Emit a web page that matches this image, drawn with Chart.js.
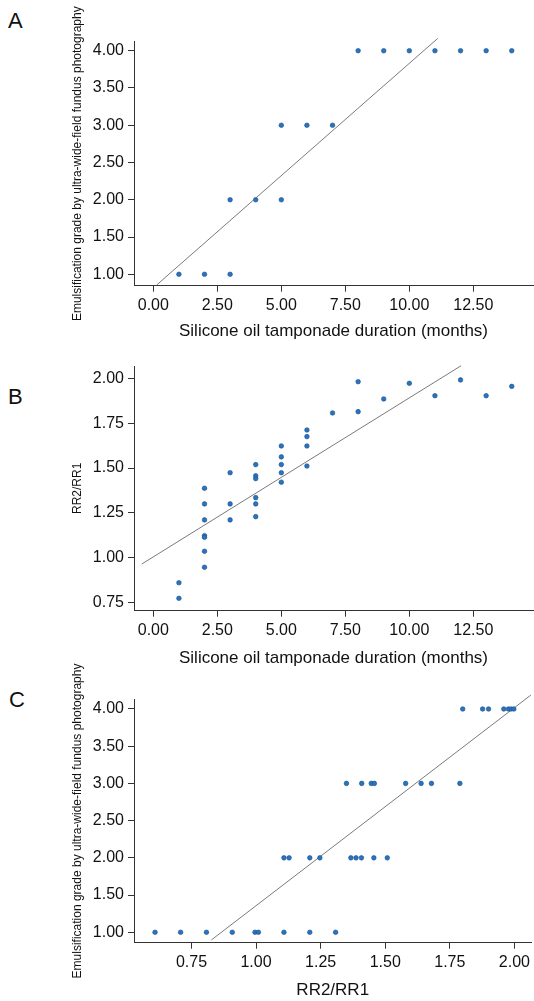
<!DOCTYPE html>
<html>
<head>
<meta charset="utf-8">
<script src="https://cdn.jsdelivr.net/npm/chart.js@4.4.1/dist/chart.umd.min.js"></script>
<style>
  html, body { margin: 0; padding: 0; background: #fff; }
  body { width: 534px; height: 1001px; position: relative; overflow: hidden; font-family: "Liberation Sans", Arial, sans-serif; }
  canvas { position: absolute; left: 0; }
  .tag { position: absolute; font-size: 22px; line-height: 22px; color: #111; }
</style>
</head>
<body>
<div class="tag" style="left:8px;top:10px">A</div>
<div class="tag" style="left:8px;top:386px">B</div>
<div class="tag" style="left:9px;top:689px">C</div>
<canvas id="chartA" style="top:0px" width="534" height="345"></canvas>
<canvas id="chartB" style="top:345px" width="534" height="330"></canvas>
<canvas id="chartC" style="top:655px" width="534" height="346"></canvas>
<script>
// panel A: grade vs duration
const durationA = [1, 2, 3, 3, 4, 5, 5, 6, 7, 8, 9, 10, 11, 12, 13, 14];
const gradeA    = [1, 1, 1, 2, 2, 2, 3, 3, 3, 4, 4, 4, 4, 4, 4, 4];
const fitA = [0.3014, 0.817];        // slope, intercept
const fitRangeA = [0.133, 11.11];

// panel B: RR2/RR1 vs duration
const durationB = [1, 1,
  2, 2, 2, 2, 2, 2, 2,
  3, 3, 3,
  4, 4, 4, 4, 4, 4,
  5, 5, 5, 5, 5,
  6, 6, 6, 6,
  7, 8, 8, 9, 10, 11, 12, 13, 14];
const ratioB = [0.861, 0.774,
  1.387, 1.300, 1.211, 1.123, 1.114, 1.036, 0.947,
  1.474, 1.300, 1.211,
  1.519, 1.457, 1.441, 1.335, 1.300, 1.229,
  1.623, 1.562, 1.519, 1.474, 1.421,
  1.712, 1.675, 1.623, 1.511,
  1.807, 1.981, 1.814, 1.885, 1.972, 1.903, 1.991, 1.903, 1.955];
const fitB = [0.0886, 1.005];
const fitRangeB = [-0.45, 12.02];

// panel C: grade vs RR2/RR1
const ratioC = [0.609, 0.708, 0.808, 0.908, 0.996, 1.009, 1.108, 1.208, 1.308,
  1.108, 1.128, 1.208, 1.247, 1.367, 1.387, 1.408, 1.456, 1.508,
  1.350, 1.409, 1.446, 1.458, 1.579, 1.639, 1.679, 1.789,
  1.800, 1.877, 1.900, 1.959, 1.977, 1.987, 1.998];
const gradeC = [1, 1, 1, 1, 1, 1, 1, 1, 1,
  2, 2, 2, 2, 2, 2, 2, 2, 2,
  3, 3, 3, 3, 3, 3, 3, 3,
  4, 4, 4, 4, 4, 4, 4];
const fitC = [2.66, -1.303];
const fitRangeC = [0.827, 2.064];

const durationTicks = [0, 2.5, 5, 7.5, 10, 12.5];
const gradeTicks = [1, 1.5, 2, 2.5, 3, 3.5, 4];
const ratioTicksB = [0.75, 1, 1.25, 1.5, 1.75, 2];
const ratioTicksC = [0.75, 1, 1.25, 1.5, 1.75, 2];

const gradeTitle = 'Emulsification grade by ultra-wide-field fundus photography';
const durationTitle = 'Silicone oil tamponade duration (months)';

Chart.defaults.font.family = '"Liberation Sans", Arial, sans-serif';
Chart.defaults.color = '#111';

const axisColor = '#333';

function axis(min, max, ticks, title, titleSize, titlePad, fitFn) {
  return {
    type: 'linear', min: min, max: max,
    afterBuildTicks: s => { s.ticks = ticks.map(v => ({ value: v })); },
    afterFit: fitFn,
    grid: { drawOnChartArea: false, drawTicks: true, tickLength: 6, color: axisColor },
    border: { display: true, color: axisColor, width: 1 },
    ticks: { padding: 4, font: { size: 16 }, autoSkip: false, maxRotation: 0,
      callback: v => Number(v).toFixed(2) },
    title: { display: true, text: title, font: { size: titleSize }, padding: titlePad }
  };
}

function panel(id, xs, ys, fit, fitRange, o) {
  const pts = xs.map((x, i) => ({ x: x, y: ys[i] }));
  const line = fitRange.map(x => ({ x: x, y: fit[0] * x + fit[1] }));
  new Chart(document.getElementById(id), {
    type: 'scatter',
    data: {
      datasets: [{
        data: pts,
        pointRadius: 2.3,
        pointBackgroundColor: '#2674c2',
        pointBorderColor: '#1c4f82',
        pointBorderWidth: 0.6
      }, {
        data: line,
        showLine: true,
        pointRadius: 0,
        borderColor: '#7a7a7a',
        borderWidth: 1,
        clip: false
      }]
    },
    options: {
      responsive: false,
      animation: false,
      layout: { autoPadding: false, padding: { left: 70, right: 1, top: o.padTop, bottom: 0 } },
      plugins: { legend: { display: false }, tooltip: { enabled: false } },
      scales: {
        x: axis(o.xMin, o.xMax, o.xTicks, o.xTitle, 17, { top: 0, bottom: o.titlePad },
          s => { s.height = o.axisH; }),
        y: axis(o.yMin, o.yMax, o.yTicks, o.yTitle, 12, 0,
          s => { s.width = 64; })
      }
    }
  });
}

panel('chartA', durationA, gradeA, fitA, fitRangeA, {
  padTop: 41.7, axisH: 59.3, titlePad: 3.8,
  xMin: -0.754, xMax: 14.83, xTicks: durationTicks, xTitle: durationTitle,
  yMin: 0.847, yMax: 4.121, yTicks: gradeTicks, yTitle: gradeTitle
});

panel('chartB', durationB, ratioB, fitB, fitRangeB, {
  padTop: 21, axisH: 64.3, titlePad: 6.8,
  xMin: -0.754, xMax: 14.83, xTicks: durationTicks, xTitle: durationTitle,
  yMin: 0.705, yMax: 2.0685, yTicks: ratioTicksB, yTitle: 'RR2/RR1'
});

panel('chartC', ratioC, gradeC, fitC, fitRangeC, {
  padTop: 44.3, axisH: 58.3, titlePad: 0,
  xMin: 0.5276, xMax: 2.066, xTicks: ratioTicksC, xTitle: 'RR2/RR1',
  yMin: 0.86, yMax: 4.13, yTicks: gradeTicks, yTitle: gradeTitle
});
</script>
</body>
</html>
